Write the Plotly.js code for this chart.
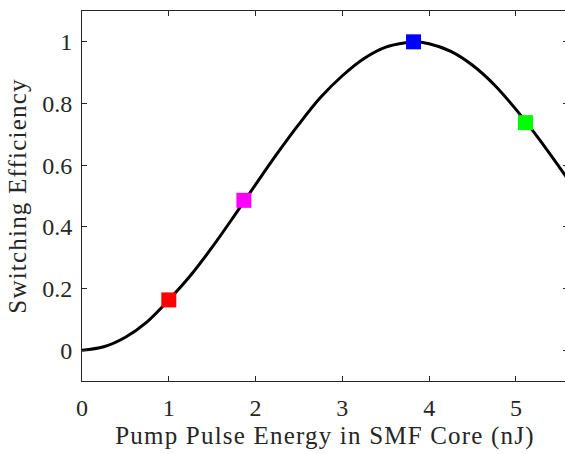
<!DOCTYPE html>
<html>
<head>
<meta charset="utf-8">
<script src="https://cdn.plot.ly/plotly-3.0.1.min.js"></script>
<style>
html,body{margin:0;padding:0;overflow:hidden;background:#fff;}
#chart{width:568px;height:454px;}
.xtitle, .ytitle {letter-spacing: 1.2px;}
</style>
</head>
<body>
<div id="chart"></div>
<script>
// Curve
const energy = [0, 0.25, 0.5, 0.75, 1.0, 1.25, 1.5, 1.75, 2.0, 2.25, 2.5, 2.75, 3.0, 3.25, 3.5, 3.75, 3.82, 4.0, 4.25, 4.5, 4.75, 5.0, 5.25, 5.5, 5.6];
const efficiency = [0, 0.011, 0.042, 0.092, 0.163, 0.242, 0.334, 0.434, 0.537, 0.638, 0.733, 0.820, 0.890, 0.946, 0.983, 0.998, 1.0, 0.994, 0.969, 0.924, 0.861, 0.781, 0.691, 0.594, 0.554];
// Highlighted points
const markerEnergy = [1.0, 1.865, 3.82, 5.11];
const markerEff = [0.163, 0.486, 1.0, 0.738];
const markerColors = ['#ff0000', '#ff00ff', '#0000ff', '#00ff00'];

const axisColor = '#262626';
const fontFam = 'Liberation Serif, Times New Roman, serif';
const traces = [
  {x: energy, y: efficiency, type: 'scatter', mode: 'lines',
   line: {color: '#000000', width: 3, shape: 'spline', smoothing: 1.0}, hoverinfo: 'skip'}
];
for (let i = 0; i < markerEnergy.length; i++) {
  traces.push({x: [markerEnergy[i]], y: [markerEff[i]], type: 'scatter', mode: 'markers',
    marker: {symbol: 'square', size: 15, color: markerColors[i], line: {width: 0}}});
}
const layout = {
  width: 568, height: 454,
  margin: {l: 82, r: 0, t: 11, b: 73},
  showlegend: false,
  paper_bgcolor: '#ffffff', plot_bgcolor: '#ffffff',
  font: {family: fontFam, color: axisColor, size: 24},
  xaxis: {
    range: [0, 5.6], dtick: 1, tick0: 0,
    showline: true, linecolor: axisColor, linewidth: 1, mirror: 'ticks',
    ticks: 'inside', ticklen: 5, tickcolor: axisColor, tickwidth: 1,
    showgrid: false, zeroline: false,
    tickfont: {family: fontFam, size: 24, color: axisColor},
    ticklabelstandoff: 5,
    title: {text: 'Pump Pulse Energy in SMF Core (nJ)', font: {family: fontFam, size: 25, color: axisColor}, standoff: 6}
  },
  yaxis: {
    range: [-0.1, 1.1], dtick: 0.2, tick0: 0,
    showline: true, linecolor: axisColor, linewidth: 1, mirror: 'ticks',
    ticks: 'inside', ticklen: 5, tickcolor: axisColor, tickwidth: 1,
    showgrid: false, zeroline: false,
    tickfont: {family: fontFam, size: 24, color: axisColor},
    ticklabelstandoff: 4,
    title: {text: 'Switching Efficiency', font: {family: fontFam, size: 25, color: axisColor}, standoff: 8}
  }
};
Plotly.newPlot('chart', traces, layout, {staticPlot: true, displayModeBar: false});
</script>
</body>
</html>
